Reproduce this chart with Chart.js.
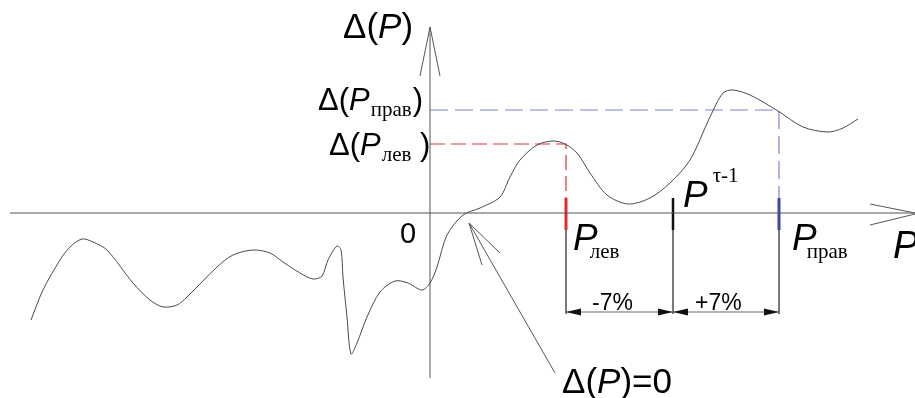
<!DOCTYPE html>
<html>
<head>
<meta charset="utf-8">
<script src="https://cdn.jsdelivr.net/npm/chart.js@4.4.0/dist/chart.umd.min.js"></script>
<style>
html, body { margin: 0; background: #fff; }
#wrap { width: 915px; height: 398px; }
</style>
</head>
<body>
<div id="wrap"><canvas id="grafico"></canvas></div>
<script>
// curve Δ(P): x = P, y = Δ(P), origin at the axes crossing
var curvaP = [-399, -387, -370, -360, -348, -337, -323, -297, -280, -267, -253, -243, -213, -197, -177, -160, -147, -130, -117, -108, -102, -93, -89, -87, -83, -79, -73, -63, -50, -35, -22, -8, 0, 7, 17,
              33, 50, 70, 80, 90, 107, 123, 135, 147, 160, 177, 198, 220, 240, 260, 280, 293, 303, 320, 348, 373, 398, 413, 428];
var curvaD = [-107, -77, -47, -34, -26, -29, -37, -70, -87, -94, -92, -84, -54, -42, -37, -40, -49, -60, -66, -63, -47, -33, -37, -64, -104, -141, -130, -104, -79, -68, -70, -77, -70, -54, -22,
              -2, 5, 16, 36, 53, 68, 72, 69, 60, 40, 18, 9, 15, 30, 53, 96, 120, 123, 118, 102, 86, 81, 85, 94];

// marked prices on the P axis
var pLev = 136, pPrev = 243, pPrav = 349;
// matching Δ levels
var dLev = 69, dPrav = 103;
// visible ranges
var rangoP = [-430, 485];
var rangoD = [-185, 213];
// dimension line level and tick span
var nivelCota = -99;
var marcaArriba = 15, marcaAbajo = -17;

var SANS = '"Liberation Sans", Arial, sans-serif';
var SERIF = '"Liberation Serif", "Times New Roman", serif';

function tramo(x1, y1, x2, y2, color, ancho, guiones) {
    return {
        data: [{ x: x1, y: y1 }, { x: x2, y: y2 }],
        borderColor: color,
        borderWidth: ancho,
        borderDash: guiones || [],
        pointRadius: 0,
        tension: 0
    };
}

var puntos = curvaP.map(function (p, i) { return { x: p, y: curvaD[i] }; });

var datasets = [
    {
        data: puntos,
        borderColor: '#4a4a4a',
        borderWidth: 1,
        pointRadius: 0,
        tension: 0.3
    },
    // red guide to P_лев
    { data: [{ x: 0, y: dLev }, { x: pLev, y: dLev }, { x: pLev, y: marcaArriba }],
      borderColor: '#e5333a', borderWidth: 1.2, borderDash: [15, 6], pointRadius: 0, tension: 0 },
    // blue guide to P_прав
    { data: [{ x: 0, y: dPrav }, { x: pPrav, y: dPrav }, { x: pPrav, y: marcaArriba }],
      borderColor: '#7d83d3', borderWidth: 1.2, borderDash: [18, 7], pointRadius: 0, tension: 0 },
    tramo(pLev, marcaArriba, pLev, marcaAbajo, '#e6262c', 3),
    tramo(pPrev, marcaArriba, pPrev, marcaAbajo, '#111', 2.5),
    tramo(pPrav, marcaArriba, pPrav, marcaAbajo, '#3a49a8', 3),
    tramo(pLev, marcaAbajo, pLev, nivelCota - 2, '#666', 1),
    tramo(pPrev, marcaAbajo, pPrev, nivelCota - 2, '#666', 1),
    tramo(pPrav, marcaAbajo, pPrav, nivelCota - 2, '#666', 1),
    tramo(pLev, nivelCota, pPrav, nivelCota, '#666', 1)
];

function texto(ctx, x, y, partes) {
    partes.forEach(function (t) {
        ctx.font = t[1];
        ctx.fillText(t[0], x + (t[3] || 0), y + (t[2] || 0));
        x += ctx.measureText(t[0]).width + (t[3] || 0);
    });
}

var esquema = {
    id: 'esquema',
    afterDatasetsDraw: function (chart) {
        var c = chart.ctx, sx = chart.scales.x, sy = chart.scales.y;
        function X(v) { return sx.getPixelForValue(v); }
        function Y(v) { return sy.getPixelForValue(v); }
        function linea(a, b, d, e) { c.beginPath(); c.moveTo(a, b); c.lineTo(d, e); c.stroke(); }
        function flecha(xt, yt, dir) {
            c.beginPath();
            c.moveTo(xt, yt);
            c.lineTo(xt + dir * 15, yt - 3.5);
            c.lineTo(xt + dir * 15, yt + 3.5);
            c.closePath();
            c.fill();
        }
        c.save();
        c.strokeStyle = '#555';
        c.lineWidth = 1;
        // axes
        linea(X(-420), Y(0), X(rangoP[1]), Y(0));
        linea(X(0), Y(186), X(0), Y(-165));
        // axis arrows
        linea(X(rangoP[1]), Y(0), X(rangoP[1] - 45), Y(9));
        linea(X(rangoP[1]), Y(-1), X(rangoP[1] - 45), Y(-12));
        linea(X(0), Y(186), X(-10), Y(137));
        linea(X(0), Y(186), X(10), Y(137));
        // pointer to Δ(P)=0
        linea(X(125), Y(-160), X(39), Y(-10));
        linea(X(39), Y(-10), X(52), Y(-52));
        linea(X(39), Y(-10), X(70), Y(-40));

        // dimension arrowheads
        c.fillStyle = '#111';
        var yc = Y(nivelCota);
        flecha(X(pLev), yc, 1);
        flecha(X(pPrev), yc, -1);
        flecha(X(pPrev), yc, 1);
        flecha(X(pPrav), yc, -1);

        // labels
        c.fillStyle = '#000';
        c.textBaseline = 'alphabetic';
        var F = '31px ' + SANS, FI = 'italic 31px ' + SANS;
        var PI = 'italic 37px ' + SANS, SUB = '21px ' + SERIF;
        texto(c, X(-87), Y(175), [['Δ(', '35px ' + SANS], ['P', 'italic 35px ' + SANS], [')', '35px ' + SANS]]);
        texto(c, X(-112), Y(103), [['Δ(', F], ['P', FI], ['прав', SUB, 6, 1], [')', F, 0, 1]]);
        texto(c, X(-101), Y(58), [['Δ(', F], ['P', FI], ['лев', SUB, 6, 1], [' )', F]]);
        c.font = '29px ' + SANS;
        c.fillText('0', X(-30), Y(-30));
        texto(c, X(463), Y(-45), [['P', 'italic 38px ' + SANS]]);
        texto(c, X(143), Y(-37), [['P', PI], ['лев', SUB, 8, -8]]);
        texto(c, X(253), Y(6), [['P', PI], ['τ-1', SUB, -25, 5]]);
        texto(c, X(362), Y(-37), [['P', PI], ['прав', SUB, 8, -10]]);
        c.font = '23px ' + SANS;
        c.fillText('-7%', X(162), Y(-97));
        c.fillText('+7%', X(265), Y(-97));
        texto(c, X(132), Y(-180), [['Δ(', '35px ' + SANS], ['P', 'italic 35px ' + SANS], [')=0', '35px ' + SANS]]);
        c.restore();
    }
};

new Chart(document.getElementById('grafico'), {
    type: 'line',
    data: { datasets: datasets },
    plugins: [esquema],
    options: {
        responsive: true,
        maintainAspectRatio: false,
        animation: false,
        clip: false,
        layout: { padding: 0 },
        plugins: { legend: { display: false }, tooltip: { enabled: false } },
        scales: {
            x: { type: 'linear', display: false, min: rangoP[0], max: rangoP[1] },
            y: { type: 'linear', display: false, min: rangoD[0], max: rangoD[1] }
        }
    }
});
</script>
</body>
</html>
